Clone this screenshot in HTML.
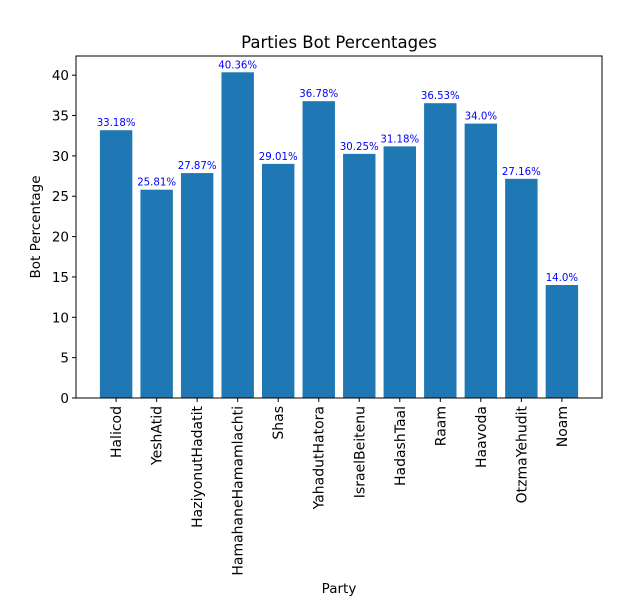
<!DOCTYPE html>
<html><head><meta charset="utf-8"><style>
body{margin:0;background:#fff}
svg{display:block;font-family:"DejaVu Sans","Liberation Sans",sans-serif}
</style></head><body>
<svg id="chart" width="628" height="603"></svg>
<script>
const categories=["Halicod","YeshAtid","HaziyonutHadatit","HamahaneHamamlachti","Shas","YahadutHatora","IsraelBeitenu","HadashTaal","Raam","Haavoda","OtzmaYehudit","Noam"];
const values=[33.18,25.81,27.87,40.36,29.01,36.78,30.25,31.18,36.53,34.0,27.16,14.0];
const valueLabels=["33.18%","25.81%","27.87%","40.36%","29.01%","36.78%","30.25%","31.18%","36.53%","34.0%","27.16%","14.0%"];
const yTicks=[0,5,10,15,20,25,30,35,40];

const NS="http://www.w3.org/2000/svg";
const svg=document.getElementById('chart');
const L=76,R=602,T=56,B=398;
const yMax=Math.max(...values)*1.05;
const n=categories.length;
const xMin=-0.4-0.05*(n-0.2), xMax=n-1+0.4+0.05*(n-0.2);
const xs=v=>L+(v-xMin)/(xMax-xMin)*(R-L);
const ys=v=>B-v/yMax*(B-T);
function mk(tag,attrs,parent){const e=document.createElementNS(NS,tag);for(const k in attrs)e.setAttribute(k,attrs[k]);(parent||svg).appendChild(e);return e;}

const title=mk('text',{x:(L+R)/2,y:48,'text-anchor':'middle','font-size':16.5,fill:'#000'});
title.textContent='Parties Bot Percentages';



values.forEach((v,i)=>{
  const w=0.8*(R-L)/(xMax-xMin);
  const r=mk('rect',{x:xs(i)-w/2,y:ys(v),width:w,height:B-ys(v),fill:'#1f77b4'});
  
  
  const t=mk('text',{x:xs(i),y:ys(v)-4,'text-anchor':'middle','font-size':10.2,fill:'#0000ff'});
  t.textContent=valueLabels[i];
  
  
  mk('line',{x1:xs(i),x2:xs(i),y1:B,y2:B+4,stroke:'#000','stroke-width':1});
  const c=mk('text',{transform:`translate(${xs(i)+5},${B+8}) rotate(-90)`,'text-anchor':'end','font-size':14,fill:'#000'});
  c.textContent=categories[i];
  
  
});

yTicks.forEach(v=>{
  mk('line',{x1:L-4,x2:L,y1:ys(v),y2:ys(v),stroke:'#000','stroke-width':1});
  const t=mk('text',{x:L-7,y:ys(v)+5,'text-anchor':'end','font-size':13.5,fill:'#000'});
  t.textContent=v;
  
  
});

const frame=mk('rect',{x:L,y:T,width:R-L,height:B-T,fill:'none',stroke:'#000','stroke-width':1});



const xl=mk('text',{x:(L+R)/2,y:593,'text-anchor':'middle','font-size':13.5,fill:'#000'});
xl.textContent='Party';


const yl=mk('text',{transform:`translate(40,${(T+B)/2}) rotate(-90)`,'text-anchor':'middle','font-size':13.5,fill:'#000'});
yl.textContent='Bot Percentage';


</script>
</body></html>
